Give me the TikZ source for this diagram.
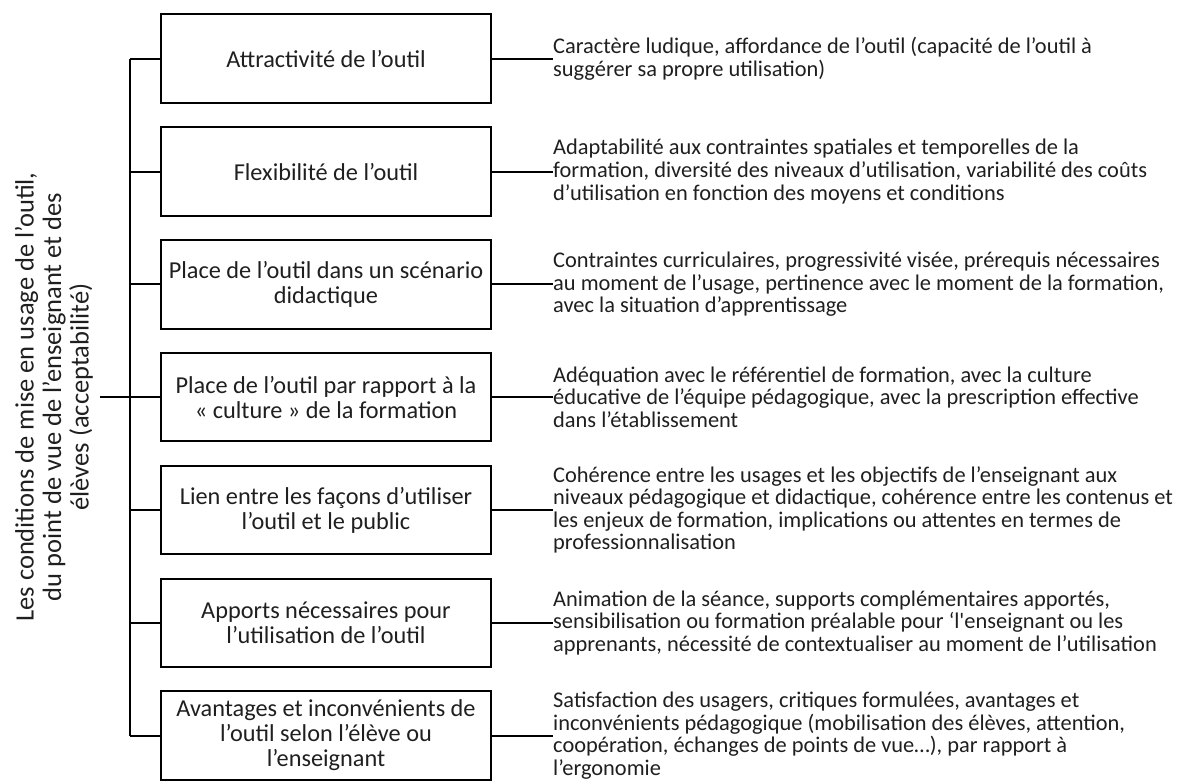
\documentclass[tikz,border=0pt]{standalone}
\usepackage{fontspec}
\setmainfont{Carlito}
\begin{document}
\begin{tikzpicture}[x=1pt,y=-1pt,
  box/.style={draw=black, text=black!88, line width=2pt, minimum width=330pt, minimum height=88.5pt, inner sep=0pt, align=center, font=\fontsize{24.3}{25}\selectfont},
  desc/.style={anchor=west, text=black!88, inner sep=0pt, align=left, font=\fontsize{22.4}{22.6}\selectfont},
  conn/.style={line width=2pt},
  lbl/.style={rotate=90, text=black!88, align=center, inner sep=2pt, font=\fontsize{26.5}{27.5}\selectfont}]
\useasboundingbox (0,0) rectangle (1177,781);
\foreach \i/\t in {1/{Attractivité de l’outil},
  2/{Flexibilité de l’outil},
  3/{Place de l’outil dans un scénario\\didactique},
  4/{Place de l’outil par rapport à la\\«~culture~» de la formation},
  5/{Lien entre les façons d’utiliser\\l’outil et le public},
  6/{Apports nécessaires pour\\l’utilisation de l’outil},
  7/{Avantages et inconvénients de\\l’outil selon l’élève ou\\l’enseignant}}
  \node[box] (b\i) at (326,{58.75+112.8*(\i-1)}) {\t};
\foreach \i/\t in {1/{Caractère ludique, affordance de l’outil (capacité de l’outil à\\suggérer sa propre utilisation)},
  2/{Adaptabilité aux contraintes spatiales et temporelles de la\\formation, diversité des niveaux d’utilisation, variabilité des coûts\\d’utilisation en fonction des moyens et conditions},
  3/{Contraintes curriculaires, progressivité visée, prérequis nécessaires\\au moment de l’usage, pertinence avec le moment de la formation,\\avec la situation d’apprentissage},
  4/{Adéquation avec le référentiel de formation, avec la culture\\éducative de l’équipe pédagogique, avec la prescription effective\\dans l’établissement},
  5/{Cohérence entre les usages et les objectifs de l’enseignant aux\\niveaux pédagogique et didactique, cohérence entre les contenus et\\les enjeux de formation, implications ou attentes en termes de\\professionnalisation},
  6/{Animation de la séance, supports complémentaires apportés,\\sensibilisation ou formation préalable pour ‘l\textquotesingle enseignant ou les\\apprenants, nécessité de contextualiser au moment de l’utilisation},
  7/{Satisfaction des usagers, critiques formulées, avantages et\\inconvénients pédagogique (mobilisation des élèves, attention,\\coopération, échanges de points de vue…), par rapport à\\l’ergonomie}}
  {\node[desc] (t\i) at (553,{58.75+112.8*(\i-1)}) {\t};
   \draw[conn] (b\i.east) -- (t\i.west);}
\node[lbl] (L) at (54,397) {Les conditions de mise en usage de l’outil,\\du point de vue de l’enseignant et des\\élèves (acceptabilité)};
\coordinate (sp) at (130,397);
\draw[conn] (b1.west -| sp) -- (b7.west -| sp);
\foreach \i in {1,...,7} \draw[conn] (b\i.west -| sp) -- (b\i.west);
\draw[conn] (sp -| 100,0) -- (sp);
\end{tikzpicture}
\end{document}
